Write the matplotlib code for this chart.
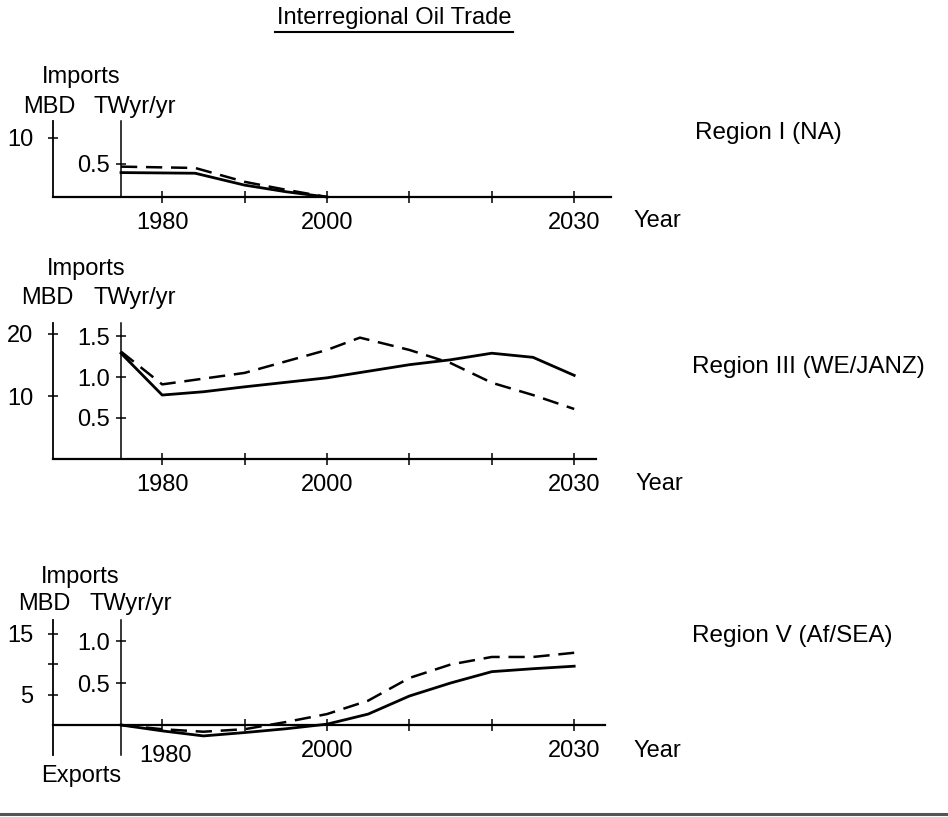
import matplotlib
matplotlib.use("Agg")
import matplotlib.pyplot as plt
from matplotlib.lines import Line2D
from matplotlib.transforms import ScaledTranslation

plt.rcParams['font.family'] = ['Liberation Sans', 'DejaVu Sans']

# ---------------- data (TWyr/yr) ----------------
years_na = [1975, 1984, 1990, 1995, 2000]
na_solid = [0.37, 0.36, 0.18, 0.08, 0.0]
na_dashed = [0.46, 0.44, 0.23, 0.11, 0.0]

years_we = [1975, 1980, 1985, 1990, 2000, 2005, 2010, 2015, 2020, 2025, 2030]
we_solid = [1.29, 0.78, 0.82, 0.88, 0.99, 1.07, 1.15, 1.21, 1.29, 1.24, 1.02]
years_we_d = [1975, 1980, 1990, 2000, 2004, 2010, 2015, 2020, 2025, 2030]
we_dashed = [1.31, 0.91, 1.05, 1.33, 1.48, 1.33, 1.17, 0.93, 0.78, 0.61]

years_af = [1975, 1980, 1985, 1990, 1995, 2000, 2005, 2010, 2015, 2020, 2025, 2030]
af_solid = [0.0, -0.07, -0.13, -0.09, -0.045, 0.01, 0.13, 0.345, 0.50, 0.635, 0.67, 0.70]
af_dashed = [0.0, -0.05, -0.08, -0.05, 0.035, 0.13, 0.29, 0.56, 0.72, 0.81, 0.81, 0.86]

year_ticks = [1980, 1990, 2000, 2010, 2020, 2030]
year_labels = ['1980', '', '2000', '', '', '2030']

panels = [
    dict(name='Region I (NA)', years_s=years_na, solid=na_solid, years_d=years_na, dashed=na_dashed,
         mbd_ticks=[10], mbd_labels=['10'], tw_ticks=[0.5], tw_labels=['0.5']),
    dict(name='Region III (WE/JANZ)', years_s=years_we, solid=we_solid, years_d=years_we_d, dashed=we_dashed,
         mbd_ticks=[10, 20], mbd_labels=['10', '20'], tw_ticks=[0.5, 1.0, 1.5], tw_labels=['0.5', '1.0', '1.5']),
    dict(name='Region V (Af/SEA)', years_s=years_af, solid=af_solid, years_d=years_af, dashed=af_dashed,
         mbd_ticks=[5, 10, 15], mbd_labels=['5', '', '15'], tw_ticks=[0.5, 1.0], tw_labels=['0.5', '1.0']),
]

# ---------------- layout (pixels) ----------------
W, H = 948, 817
fig = plt.figure(figsize=(W / 100, H / 100), dpi=100)

def fx(x):
    return x / W

def fy(y):
    return 1 - y / H

FS = 17
X0 = 1966.7
PX_PER_YR = 8.24
LEFT = 52.6

geo = [
    dict(right=611, top=121, zero=197, bottom=197, ptw=66, pmbd=5.9,
         imp=(42, 77), mbd=(23, 107), tw=(94, 107), year=(634, 221), reg=(695, 133)),
    dict(right=596, top=323, zero=459, bottom=459, ptw=82, pmbd=6.25,
         imp=(47, 269), mbd=(21, 298), tw=(94, 298), year=(636, 484), reg=(692, 367)),
    dict(right=605, top=620, zero=725, bottom=755, ptw=84, pmbd=6.1,
         imp=(41, 577), mbd=(18, 604), tw=(89, 604), year=(634, 751), reg=(692, 636)),
]

for i, (p, g) in enumerate(zip(panels, geo)):
    ax = fig.add_axes([fx(LEFT), fy(g['bottom']), (g['right'] - LEFT) / W, (g['bottom'] - g['top']) / H])
    ax.set_xlim(X0, X0 + (g['right'] - LEFT) / PX_PER_YR)
    ax.set_ylim(-(g['bottom'] - g['zero']) / g['pmbd'], (g['zero'] - g['top']) / g['pmbd'])
    ax.patch.set_visible(False)
    for s in ['top', 'right']:
        ax.spines[s].set_visible(False)
    ax.spines['left'].set_linewidth(1.3)
    ax.spines['bottom'].set_linewidth(1.6)
    ax.spines['bottom'].set_position(('data', 0))
    ax.set_yticks(p['mbd_ticks'])
    ax.set_yticklabels(p['mbd_labels'])
    ax.set_xticks(year_ticks)
    ax.set_xticklabels(year_labels)
    ax.tick_params(axis='y', direction='inout', length=7, width=1.1, labelsize=FS, pad=10.5)
    ax.tick_params(axis='x', direction='inout', length=8, width=1.1, labelsize=FS, pad=7)

    ax2 = ax.twinx()
    ax2.set_ylim(-(g['bottom'] - g['zero']) / g['ptw'], (g['zero'] - g['top']) / g['ptw'])
    ax2.patch.set_visible(False)
    for s in ['top', 'right', 'bottom']:
        ax2.spines[s].set_visible(False)
    ax2.spines['left'].set_visible(True)
    ax2.spines['left'].set_position(('data', 1975))
    ax2.spines['left'].set_linewidth(1.1)
    ax2.yaxis.tick_left()
    ax2.set_yticks(p['tw_ticks'])
    ax2.set_yticklabels(p['tw_labels'])
    ax2.tick_params(axis='y', direction='inout', length=7, width=1.1, labelsize=FS, pad=4.5)

    ax2.plot(p['years_s'], p['solid'], color='black', lw=2.0, solid_joinstyle='round', clip_on=False)
    ax2.plot(p['years_d'], p['dashed'], color='black', lw=1.8, dashes=(6.5, 3.5), clip_on=False)

    if i == 2:
        lab = ax.get_xticklabels()[0]
        lab.set_transform(lab.get_transform() + ScaledTranslation(3 / 100, -5 / 100, fig.dpi_scale_trans))

    fig.text(fx(g['imp'][0]), fy(g['imp'][1]), 'Imports', fontsize=FS, ha='left', va='center')
    fig.text(fx(g['mbd'][0]), fy(g['mbd'][1]), 'MBD', fontsize=FS, ha='left', va='center')
    fig.text(fx(g['tw'][0]), fy(g['tw'][1]), 'TWyr/yr', fontsize=FS, ha='left', va='center')
    fig.text(fx(g['year'][0]), fy(g['year'][1]), 'Year', fontsize=FS, ha='left', va='center')
    fig.text(fx(g['reg'][0]), fy(g['reg'][1]), p['name'], fontsize=FS + 0.5, ha='left', va='center')

fig.text(fx(41), fy(776), 'Exports', fontsize=FS, ha='left', va='center')

# title with underline
fig.text(fx(394), fy(18), 'Interregional Oil Trade', fontsize=FS, ha='center', va='center')
fig.add_artist(Line2D([fx(275), fx(513)], [fy(32), fy(32)], color='black', lw=1.5))

# bottom separator line
fig.add_artist(Line2D([0, 1], [fy(814), fy(814)], color='#555555', lw=2.2))

fig.savefig('out.png', dpi=100)
